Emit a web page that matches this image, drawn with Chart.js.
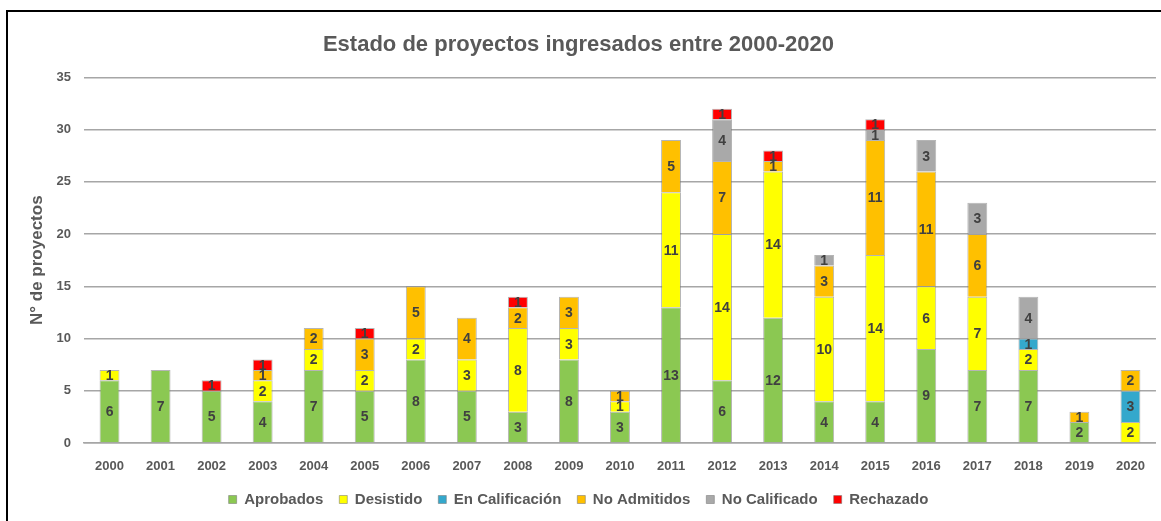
<!DOCTYPE html>
<html>
<head>
<meta charset="utf-8">
<script src="https://cdn.jsdelivr.net/npm/chart.js@4.4.1/dist/chart.umd.min.js"></script>
<style>
  html, body { margin: 0; padding: 0; background: #fff; overflow: hidden; }
  #frame { position: absolute; left: 6px; top: 10px; width: 1200px; height: 600px; border: 2px solid #000; box-sizing: border-box; }
  #wrap { position: absolute; left: 0; top: 0; width: 1161px; height: 521px; }
</style>
</head>
<body>
<div id="frame"></div>
<div id="wrap"><canvas id="c"></canvas></div>
<script>
const years = ['2000','2001','2002','2003','2004','2005','2006','2007','2008','2009','2010',
               '2011','2012','2013','2014','2015','2016','2017','2018','2019','2020'];
const aprobados      = [6, 7, 5, 4, 7, 5, 8, 5, 3, 8, 3, 13, 6, 12, 4, 4, 9, 7, 7, 2, null];
const desistido      = [1, null, null, 2, 2, 2, 2, 3, 8, 3, 1, 11, 14, 14, 10, 14, 6, 7, 2, null, 2];
const enCalificacion = [null, null, null, null, null, null, null, null, null, null, null, null, null, null, null, null, null, null, 1, null, 3];
const noAdmitidos    = [null, null, null, 1, 2, 3, 5, 4, 2, 3, 1, 5, 7, 1, 3, 11, 11, 6, null, 1, 2];
const noCalificado   = [null, null, null, null, null, null, null, null, null, null, null, null, 4, null, 1, 1, 3, 3, 4, null, null];
const rechazado      = [null, null, 1, 1, null, 1, null, null, 1, null, null, null, 1, 1, null, 1, null, null, null, null, null];
const yTicks = [0, 5, 10, 15, 20, 25, 30, 35];

const FONT = '"Liberation Sans", Arial, sans-serif';
const TXT = '#595959';

const seriesDefs = [
  ['Aprobados', aprobados, '#8BC852'],
  ['Desistido', desistido, '#FFFF00'],
  ['En Calificación', enCalificacion, '#34A8CC'],
  ['No Admitidos', noAdmitidos, '#FFC000'],
  ['No Calificado', noCalificado, '#A9A9A9'],
  ['Rechazado', rechazado, '#FF0000']
];

// Writes each segment's value in the middle of its bar piece
const segmentLabels = {
  id: 'segmentLabels',
  afterDatasetsDraw(chart) {
    const ctx = chart.ctx;
    ctx.save();
    ctx.font = 'bold 14px ' + FONT;
    ctx.fillStyle = '#404040';
    ctx.textAlign = 'center';
    ctx.textBaseline = 'middle';
    chart.data.datasets.forEach((ds, i) => {
      const meta = chart.getDatasetMeta(i);
      if (meta.hidden) return;
      meta.data.forEach((bar, j) => {
        const v = ds.data[j];
        if (v === null || v === undefined) return;
        ctx.fillText(String(v), bar.x, (bar.y + bar.base) / 2 + 1);
      });
    });
    ctx.restore();
  }
};

new Chart(document.getElementById('c'), {
  type: 'bar',
  data: {
    labels: years,
    datasets: seriesDefs.map(([label, data, color]) => ({
      label, data,
      backgroundColor: color,
      borderColor: 'rgba(120,120,120,0.55)',
      borderWidth: 1,
      barPercentage: 0.39,
      categoryPercentage: 1.0
    }))
  },
  options: {
    responsive: true,
    maintainAspectRatio: false,
    animation: false,
    layout: { padding: { left: 0, right: 4, top: 0, bottom: 4 } },
    plugins: {
      title: {
        display: true,
        text: 'Estado de proyectos ingresados entre 2000-2020',
        color: TXT,
        font: { family: FONT, size: 22, weight: 'bold' },
        padding: { top: 32, bottom: 19 }
      },
      legend: {
        position: 'bottom',
        labels: {
          color: TXT,
          font: { family: FONT, size: 15, weight: 'bold' },
          boxWidth: 8, boxHeight: 8,
          padding: 16
        }
      },
      tooltip: { enabled: false }
    },
    scales: {
      x: {
        stacked: true,
        afterFit(scale) { scale.height = 33; },
        grid: { display: false, drawTicks: false },
        border: { display: true, color: '#A6A6A6', width: 1.5 },
        ticks: { color: TXT, font: { family: FONT, size: 13, weight: 'bold' }, padding: 16, maxRotation: 0 }
      },
      y: {
        stacked: true,
        min: 0, max: 35,
        afterBuildTicks(scale) { scale.ticks = yTicks.map(v => ({ value: v })); },
        afterFit(scale) { scale.width = 84; },
        grid: { color: '#A6A6A6', lineWidth: 1.5, drawTicks: false },
        border: { display: false },
        ticks: { color: TXT, font: { family: FONT, size: 13, weight: 'bold' }, padding: 13 },
        title: {
          display: true,
          text: 'N° de proyectos',
          color: TXT,
          font: { family: FONT, size: 17, weight: 'bold' },
          padding: { top: 27, bottom: 0 }
        }
      }
    }
  },
  plugins: [segmentLabels]
});
</script>
</body>
</html>
